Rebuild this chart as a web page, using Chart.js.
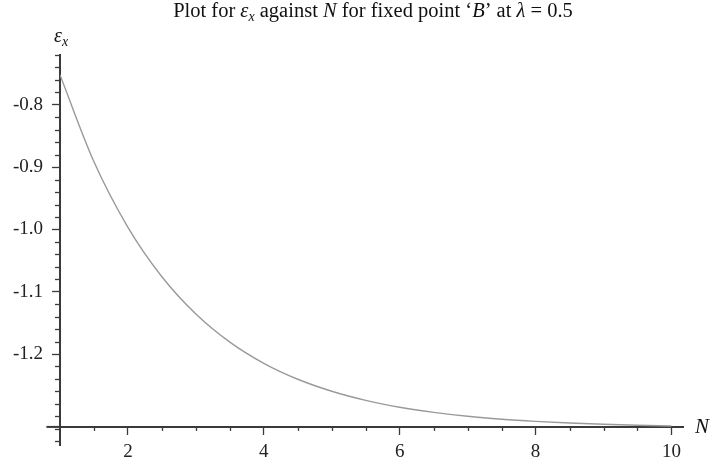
<!DOCTYPE html>
<html><head><meta charset="utf-8">
<script src="https://cdn.jsdelivr.net/npm/chart.js@4"></script>
<style>html,body{margin:0;padding:0;background:#fff}</style>
</head><body>
<canvas id="c" width="710" height="466"></canvas>
<script>
// ---- data ----
const nValues = [1, 1.5, 2, 2.5, 3, 3.5, 4, 4.5, 5, 5.5, 6, 6.5, 7, 7.5, 8, 8.5, 9, 9.5, 10];
const epsValues = [-0.752, -0.8915, -0.9967, -1.076, -1.1358, -1.1809, -1.2149, -1.2405, -1.2598,
  -1.2744, -1.2854, -1.2936, -1.2999, -1.3046, -1.3081, -1.3108, -1.3128, -1.3143, -1.3155];
const xTickValues = [1, 1.5, 2, 2.5, 3, 3.5, 4, 4.5, 5, 5.5, 6, 6.5, 7, 7.5, 8, 8.5, 9, 9.5, 10];
const xTickLabels = ['2', '4', '6', '8', '10'];
const yTickValues = [-1.34, -1.32, -1.30, -1.28, -1.26, -1.24, -1.22, -1.20, -1.18, -1.16, -1.14,
  -1.12, -1.10, -1.08, -1.06, -1.04, -1.02, -1.00, -0.98, -0.96, -0.94, -0.92, -0.90, -0.88,
  -0.86, -0.84, -0.82, -0.80, -0.78, -0.76, -0.74, -0.72];
const yTickLabels = ['-1.2', '-1.1', '-1.0', '-0.9', '-0.8'];

const SERIF = "'Liberation Serif', 'DejaVu Serif', serif";
const AXIS_COLOR = '#3a3a3a';
const X_AXIS_AT = -1.317;

function xLabel(v) {
  const s = String(Math.round(v * 100) / 100);
  return xTickLabels.includes(s) ? s : '';
}
function yLabel(v) {
  const s = (Math.round(v * 100) / 100).toFixed(1);
  const exact = Math.abs(Math.round(v * 10) / 10 - v) < 1e-6;
  return exact && yTickLabels.includes(s) ? s : '';
}

const extras = {
  id: 'extras',
  afterDraw(chart) {
    const ctx = chart.ctx;
    const xs = chart.scales.x, ys = chart.scales.y;
    const axisY = ys.getPixelForValue(X_AXIS_AT);
    const axisX = xs.getPixelForValue(1);
    ctx.save();
    // x axis stub to the left of the y axis
    ctx.strokeStyle = AXIS_COLOR;
    ctx.lineWidth = 2;
    ctx.beginPath(); ctx.moveTo(xs.getPixelForValue(0.8), axisY); ctx.lineTo(axisX, axisY); ctx.stroke();
    // minor ticks
    ctx.lineWidth = 1.3;
    xTickValues.forEach(v => {
      if (xLabel(v) !== '' || v === 1) return;
      const px = Math.round(xs.getPixelForValue(v)) + 0.5;
      ctx.beginPath(); ctx.moveTo(px, axisY); ctx.lineTo(px, axisY + 4); ctx.stroke();
    });
    yTickValues.forEach(v => {
      if (yLabel(v) !== '') return;
      const py = Math.round(ys.getPixelForValue(v)) + 0.5;
      ctx.beginPath(); ctx.moveTo(axisX - 5, py); ctx.lineTo(axisX, py); ctx.stroke();
    });
    // title with mixed fonts
    ctx.fillStyle = '#111';
    ctx.textBaseline = 'alphabetic';
    const reg = '20.5px ' + SERIF, it = 'italic 20.5px ' + SERIF, sub = 'italic 14px ' + SERIF;
    const segs = [
      ['Plot for ', reg, 0], ['\u03b5', it, 0], ['x', sub, 4], [' against ', reg, 0], ['N', it, 0],
      [' for fixed point \u2018', reg, 0], ['B', it, 0], ['\u2019 at ', reg, 0], ['\u03bb', it, 0], [' = 0.5', reg, 0]
    ];
    let total = 0;
    segs.forEach(s => { ctx.font = s[1]; total += ctx.measureText(s[0]).width; });
    let x = 373 - total / 2;
    segs.forEach(s => { ctx.font = s[1]; ctx.fillText(s[0], x, 17 + s[2]); x += ctx.measureText(s[0]).width; });
    // y axis label
    ctx.font = 'italic 20px ' + SERIF;
    ctx.fillText('\u03b5', 54, 42);
    const w = ctx.measureText('\u03b5').width;
    ctx.font = 'italic 14px ' + SERIF;
    ctx.fillText('x', 54 + w, 46);
    // x axis label
    ctx.font = 'italic 21px ' + SERIF;
    ctx.textBaseline = 'middle';
    ctx.fillText('N', 695, axisY + 1);
    ctx.restore();
  }
};

new Chart(document.getElementById('c'), {
  type: 'line',
  data: {
    datasets: [{
      data: nValues.map((n, i) => ({x: n, y: epsValues[i]})),
      borderColor: '#9a9a9a',
      borderWidth: 1.4,
      pointRadius: 0,
      fill: false,
      cubicInterpolationMode: 'monotone'
    }]
  },
  options: {
    responsive: false,
    animation: false,
    devicePixelRatio: 1,
    layout: {padding: {left: 0, right: 27, top: 55, bottom: 19}},
    plugins: {legend: {display: false}, tooltip: {enabled: false}, title: {display: false}},
    scales: {
      x: {
        type: 'linear', min: 1, max: 10.17,
        position: {y: X_AXIS_AT},
        afterBuildTicks: s => { s.ticks = xTickValues.map(v => ({value: v})); },
        ticks: {autoSkip: false, maxRotation: 0, padding: 7, color: '#222',
          font: {family: SERIF, size: 19}, callback: v => xLabel(v)},
        grid: {drawOnChartArea: false, drawTicks: true, tickLength: 7, tickWidth: 1.3,
          tickColor: c => (c.tick && xLabel(c.tick.value) !== '') ? AXIS_COLOR : 'rgba(0,0,0,0)'},
        border: {display: true, color: AXIS_COLOR, width: 2}
      },
      y: {
        type: 'linear', min: -1.347, max: -0.72,
        position: 'left',
        afterFit: s => { s.width = 60; },
        afterBuildTicks: s => { s.ticks = yTickValues.map(v => ({value: v})); },
        ticks: {autoSkip: false, padding: 9, color: '#222',
          font: {family: SERIF, size: 19}, callback: v => yLabel(v)},
        grid: {drawOnChartArea: false, drawTicks: true, tickLength: 8, tickWidth: 1.3,
          tickColor: c => (c.tick && yLabel(c.tick.value) !== '') ? AXIS_COLOR : 'rgba(0,0,0,0)'},
        border: {display: true, color: AXIS_COLOR, width: 2}
      }
    }
  },
  plugins: [extras]
});
</script>
</body></html>
